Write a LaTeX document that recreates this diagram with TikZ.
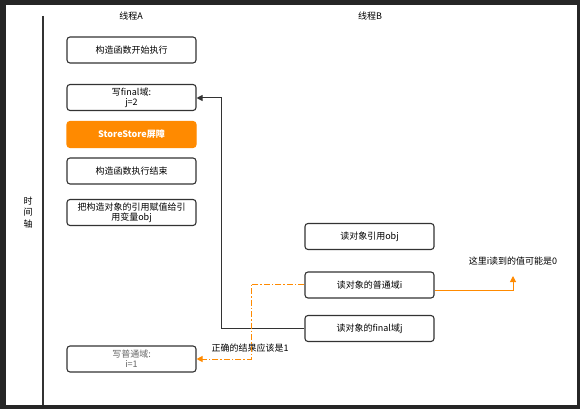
\documentclass[tikz,border=0pt]{standalone}
\usepackage{fontspec}
\setmainfont{Noto Sans CJK SC}
\usetikzlibrary{arrows.meta}
\definecolor{bgdark}{HTML}{262626}
\definecolor{boxline}{HTML}{333333}
\definecolor{orng}{HTML}{FF8A00}
\definecolor{greytxt}{HTML}{666666}
\begin{document}
\begin{tikzpicture}[x=1pt,y=-1pt,
  box/.style={draw=boxline,line width=1.1pt,rounded corners=3pt,minimum width=129pt,minimum height=26pt,inner sep=1pt,font=\fontsize{9}{10}\selectfont,align=center,text=black},
  obox/.style={box,fill=orng,draw=orng,text=white,font=\bfseries\fontsize{9}{10}\selectfont},
  lbl/.style={font=\fontsize{9}{10}\selectfont,inner sep=0pt},
  conn/.style={line width=1pt,draw=boxline},
  oarrow/.style={line width=1pt,draw=orng,-{Triangle[length=6pt,width=6pt]}}
]
\useasboundingbox (0,0) rectangle (580,409);
\fill[bgdark] (0,0) rectangle (580,409);
\fill[white] (6,5) rectangle (577,405);
% time axis
\draw[line width=1.2pt,boxline] (43,16) -- (43,405);
\node[lbl,align=center,font=\fontsize{9}{11.5}\selectfont] (axis) at (28,212.5) {时\\间\\轴};
\node[lbl] (ha) at (131,16) {线程A};
\node[lbl] (hb) at (370,16) {线程B};
% thread A
\node[box] (a1) at (131.5,50) {构造函数开始执行};
\node[box] (a2) at (131.5,97.5) {写final域:\\j=2};
\node[obox] (a3) at (131.5,134.5) {StoreStore屏障};
\node[box] (a4) at (131.5,171) {构造函数执行结束};
\node[box] (a5) at (131.5,212.5) {把构造对象的引用赋值给引\\用变量obj};
\node[box,text=greytxt] (a6) at (131.5,359) {写普通域:\\i=1};
% thread B
\node[box] (b1) at (369.5,236.5) {读对象引用obj};
\node[box] (b2) at (369.5,285) {读对象的普通域i};
\node[box] (b3) at (369.5,328.5) {读对象的final域j};
% labels
\node[lbl] (l0) at (513,261) {这里i读到的值可能是0};
\node[lbl] (l1) at (250,348) {正确的结果应该是1};
% connectors
\coordinate (c1) at (221,328.5);
\coordinate (c2) at (221,98);
\draw[conn,-{Triangle[length=6pt,width=6pt]}] (b3.west) -- (c1) -- (c2) -- (a2.east |- c2);
\coordinate (o1) at (513,290);
\coordinate (o2) at (513,276);
\draw[oarrow] (b2.east |- o1) -- (o1) -- (o2);
\coordinate (d1) at (251,284);
\coordinate (d2) at (251,359);
\draw[oarrow,dash pattern=on 6pt off 2pt on 1.5pt off 2pt] (b2.west |- d1) -- (d1) -- (d2) -- (a6.east);
\end{tikzpicture}
\end{document}
